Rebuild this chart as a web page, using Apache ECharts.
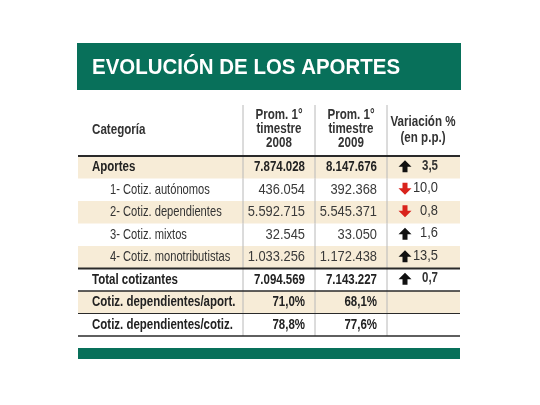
<!DOCTYPE html>
<html><head><meta charset="utf-8">
<script src="https://cdn.jsdelivr.net/npm/echarts@6/dist/echarts.min.js"></script>
<style>html,body{margin:0;padding:0;background:#fff}#c{width:540px;height:405px}</style>
</head><body><div id="c"></div>
<script>
const titleText = "EVOLUCIÓN DE LOS APORTES";
const headers = ["Categoría", "Prom. 1°\ntimestre\n2008", "Prom. 1°\ntimestre\n2009", "Variación %\n(en p.p.)"];
const categories = ["Aportes", "1- Cotiz. autónomos", "2- Cotiz. dependientes", "3- Cotiz. mixtos", "4- Cotiz. monotributistas", "Total cotizantes", "Cotiz. dependientes/aport.", "Cotiz. dependientes/cotiz."];
const prom2008 = ["7.874.028", "436.054", "5.592.715", "32.545", "1.033.256", "7.094.569", "71,0%", "78,8%"];
const prom2009 = ["8.147.676", "392.368", "5.545.371", "33.050", "1.172.438", "7.143.227", "68,1%", "77,6%"];
const variacion = ["3,5", "10,0", "0,8", "1,6", "13,5", "0,7", "", ""];
const direccion = ["up", "down", "down", "up", "up", "up", "", ""];

// layout / style
const boldRows = [0, 5, 6, 7];
const shadedRows = [0, 2, 4, 6];
const indentRows = [1, 2, 3, 4];
const colEdges = [0, 165, 237, 309, 382];
const GREEN = "#08705a", BEIGE = "#f7ecd7", GRID = "#b8b8b8", DARK = "#2a2a2a";
const SANS = '"Liberation Sans",Arial,sans-serif';
const NARROW_SCALE = 0.82;

const chart = echarts.init(document.getElementById('c'), null, {renderer: 'canvas'});

function txt(x, y, text, font, align, fill, sx, lh) {
  return {type: 'text', x: x, y: y, scaleX: sx || 1, silent: true,
    style: {x: 0, y: 0, text: text, font: font, fill: fill || DARK, align: align, textAlign: align,
      verticalAlign: 'middle', textVerticalAlign: 'middle', lineHeight: lh || 14}};
}
function hline(x1, x2, y, w, c) {
  return {type: 'line', shape: {x1: x1, y1: y, x2: x2, y2: y}, style: {stroke: c || DARK, lineWidth: w}};
}

function renderRow(params, api) {
  const i = params.dataIndex;
  const yc = api.coord([0, i])[1];
  const h = api.size([0, 1])[1];
  const top = yc - h / 2, bot = yc + h / 2;
  const xs = colEdges.map(v => api.coord([v, i])[0]);
  const bold = boldRows.indexOf(i) >= 0;
  const ch = [];
  if (shadedRows.indexOf(i) >= 0) {
    ch.push({type: 'rect', shape: {x: xs[0], y: top, width: xs[4] - xs[0], height: h}, style: {fill: BEIGE}});
  }
  for (let k = 1; k < 4; k++) {
    ch.push({type: 'line', shape: {x1: xs[k], y1: top, x2: xs[k], y2: bot}, style: {stroke: GRID, lineWidth: 1}});
  }
  if (bold) {
    ch.push(txt(xs[0] + 14, yc, categories[i], 'bold 14px ' + SANS, 'left', '#222', NARROW_SCALE));
    ch.push(txt(xs[2] - 10, yc, prom2008[i], 'bold 14px ' + SANS, 'right', '#222', NARROW_SCALE));
    ch.push(txt(xs[3] - 10, yc, prom2009[i], 'bold 14px ' + SANS, 'right', '#222', NARROW_SCALE));
  } else {
    ch.push(txt(xs[0] + (indentRows.indexOf(i) >= 0 ? 32 : 14), yc, categories[i], '14.5px ' + SANS, 'left', '#333', 0.77));
    ch.push(txt(xs[2] - 10, yc, prom2008[i], '14px ' + SANS, 'right', '#3a3a3a', 0.92));
    ch.push(txt(xs[3] - 10, yc, prom2009[i], '14px ' + SANS, 'right', '#3a3a3a', 0.92));
  }
  if (variacion[i]) {
    const isB = (i === 0 || i === 5);
    ch.push(txt(xs[4] - 22, yc - 1.5, variacion[i], isB ? 'bold 14px ' + SANS : '14px ' + SANS, 'right', '#333', isB ? NARROW_SCALE : 0.92));
    const cx = xs[3] + 18, ah = 12, t = yc - ah / 2 - 1, b = yc + ah / 2 - 1;
    let pts;
    if (direccion[i] === 'up') {
      pts = [[cx, t], [cx + 6.5, t + 6.5], [cx + 2.5, t + 6.5], [cx + 2.5, b], [cx - 2.5, b], [cx - 2.5, t + 6.5], [cx - 6.5, t + 6.5]];
    } else {
      pts = [[cx, b], [cx + 6.5, b - 6.5], [cx + 2.5, b - 6.5], [cx + 2.5, t], [cx - 2.5, t], [cx - 2.5, b - 6.5], [cx - 6.5, b - 6.5]];
    }
    ch.push({type: 'polygon', shape: {points: pts}, style: {fill: direccion[i] === 'up' ? '#111' : '#d9231c'}});
  }
  if (i === 0) ch.push(hline(xs[0], xs[4], top, 2));
  if (i === 5) ch.push(hline(xs[0], xs[4], top, 2));
  if (i === 6) ch.push(hline(xs[0], xs[4], top, 1.5));
  if (i === 7) { ch.push(hline(xs[0], xs[4], top, 1.2)); ch.push(hline(xs[0], xs[4], bot, 1.5)); }
  return {type: 'group', children: ch};
}

const headerY = 129;
const colCenters = [null, 279, 351, 423];
const HFONT = 'bold 14.5px ' + SANS;
const graphics = [
  {type: 'rect', left: 77, top: 43, shape: {width: 384, height: 47}, style: {fill: GREEN}},
  {type: 'rect', left: 78, top: 348, shape: {width: 382, height: 11}, style: {fill: GREEN}},
  txt(92, 68, titleText, 'bold 22px ' + SANS, 'left', '#fff', 0.93),
  {type: 'line', shape: {x1: 243, y1: 105, x2: 243, y2: 156}, style: {stroke: GRID, lineWidth: 1}},
  {type: 'line', shape: {x1: 315, y1: 105, x2: 315, y2: 156}, style: {stroke: GRID, lineWidth: 1}},
  {type: 'line', shape: {x1: 387, y1: 105, x2: 387, y2: 156}, style: {stroke: GRID, lineWidth: 1}},
  txt(92, 130, headers[0], HFONT, 'left', '#333', 0.8),
  txt(colCenters[1], headerY, headers[1], HFONT, 'center', '#333', 0.8, 14),
  txt(colCenters[2], headerY, headers[2], HFONT, 'center', '#333', 0.8, 14),
  txt(colCenters[3], 130, headers[3], HFONT, 'center', '#333', 0.8, 16)
];

chart.setOption({
  animation: false,
  backgroundColor: '#fff',
  grid: {left: 78, right: 80, top: 156, bottom: 69},
  xAxis: {type: 'value', min: colEdges[0], max: colEdges[colEdges.length - 1], show: false},
  yAxis: {type: 'category', data: categories, inverse: true, show: false},
  graphic: graphics,
  series: [{
    type: 'custom',
    renderItem: renderRow,
    data: categories.map((c, i) => [0, i]),
    encode: {x: 0, y: 1},
    clip: false
  }]
});
</script>
</body></html>
